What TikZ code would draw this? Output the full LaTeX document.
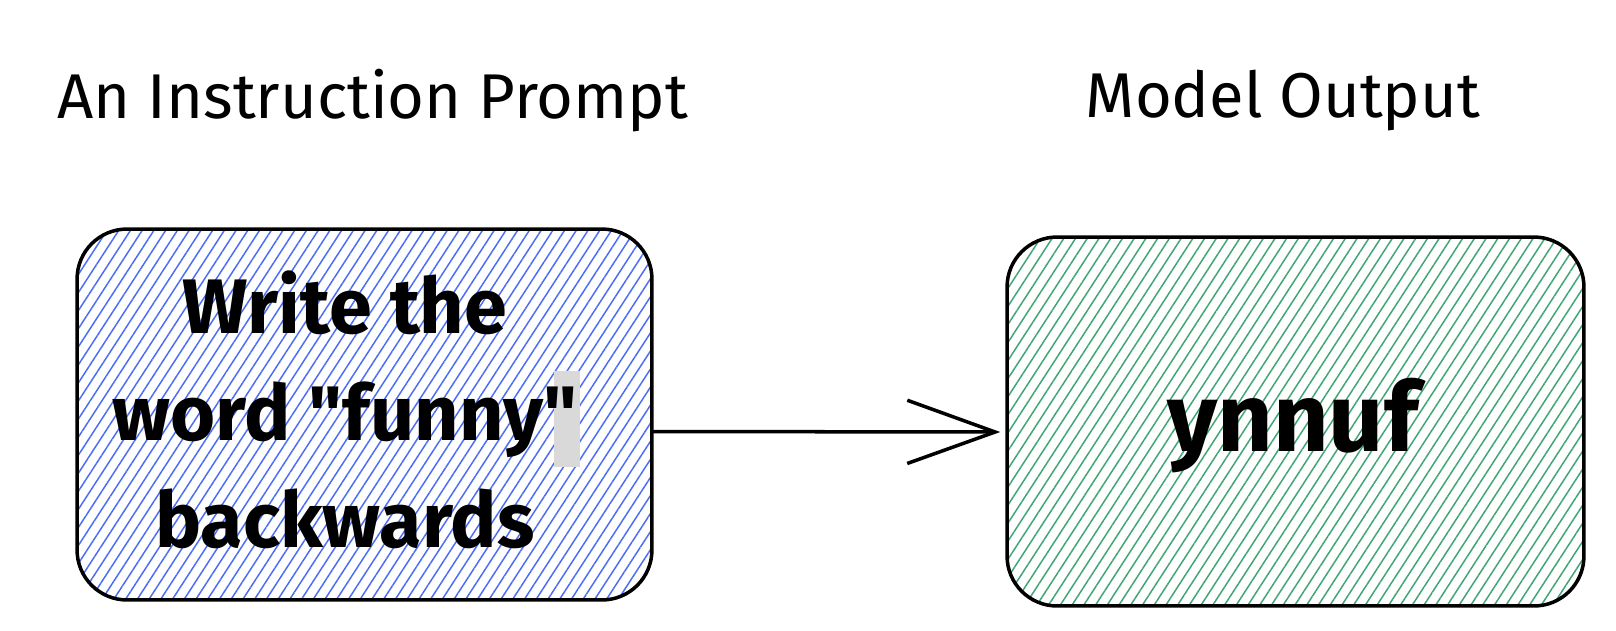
\documentclass[tikz,border=0pt]{standalone}
\usepackage{fontspec}
\setmainfont{Fira Sans}
\newfontfamily\cardfont{Fira Sans}
\usepackage{xcolor}
\usepackage{tikz}
\usetikzlibrary{arrows.meta,patterns.meta}
\definecolor{ink}{HTML}{000000}
\definecolor{hatchblue}{HTML}{4C6EF5}
\definecolor{hatchgreen}{HTML}{3FA674}
\definecolor{hlgray}{HTML}{D9D9D9}
\tikzset{
  card/.style={draw=ink, line width=2pt, rounded corners=1cm, inner sep=0pt},
  bluehatch/.style={pattern={Lines[angle=57,distance=5.6pt,line width=0.85pt]}, pattern color=hatchblue},
  greenhatch/.style={pattern={Lines[angle=57,distance=5.6pt,line width=0.85pt]}, pattern color=hatchgreen},
  head/.style={text=ink, font=\fontsize{36}{40}\selectfont},
  big/.style={text=ink, align=center, font=\cardfont\fontsize{44}{61}\selectfont\bfseries},
  conn/.style={draw=ink, line width=2pt, line cap=round, -{Straight Barb[length=50pt,width=36pt,line width=2pt]}},
}
\begin{document}
\begin{tikzpicture}[x=0.02cm, y=-0.02cm]
  \useasboundingbox (0,0) rectangle (1616,630);
  % headings
  \node[head] (ptitle) at (373,101) {An Instruction Prompt};
  \node[head] (mtitle) at (1283,101) {Model Output};
  % the two cards
  \node[card, bluehatch, minimum width=11.5cm, minimum height=7.42cm] (prompt) at (364.5,414.5) {};
  \node[card, greenhatch, minimum width=11.54cm, minimum height=7.38cm] (output) at (1295.5,421.5) {};
  \fill[hlgray] (554,371) rectangle (580,467);
  \node[big] (ptext) at (345,410) {Write the\\word "funny"\\backwards};
  \node[big, font=\cardfont\fontsize{55}{61}\selectfont\bfseries] (otext) at (1293,426) {ynnuf};
  \draw[conn] ([yshift=-0.34cm]prompt.east) -- ([yshift=-0.21cm,xshift=-0.1cm]output.west);
\end{tikzpicture}
\end{document}
